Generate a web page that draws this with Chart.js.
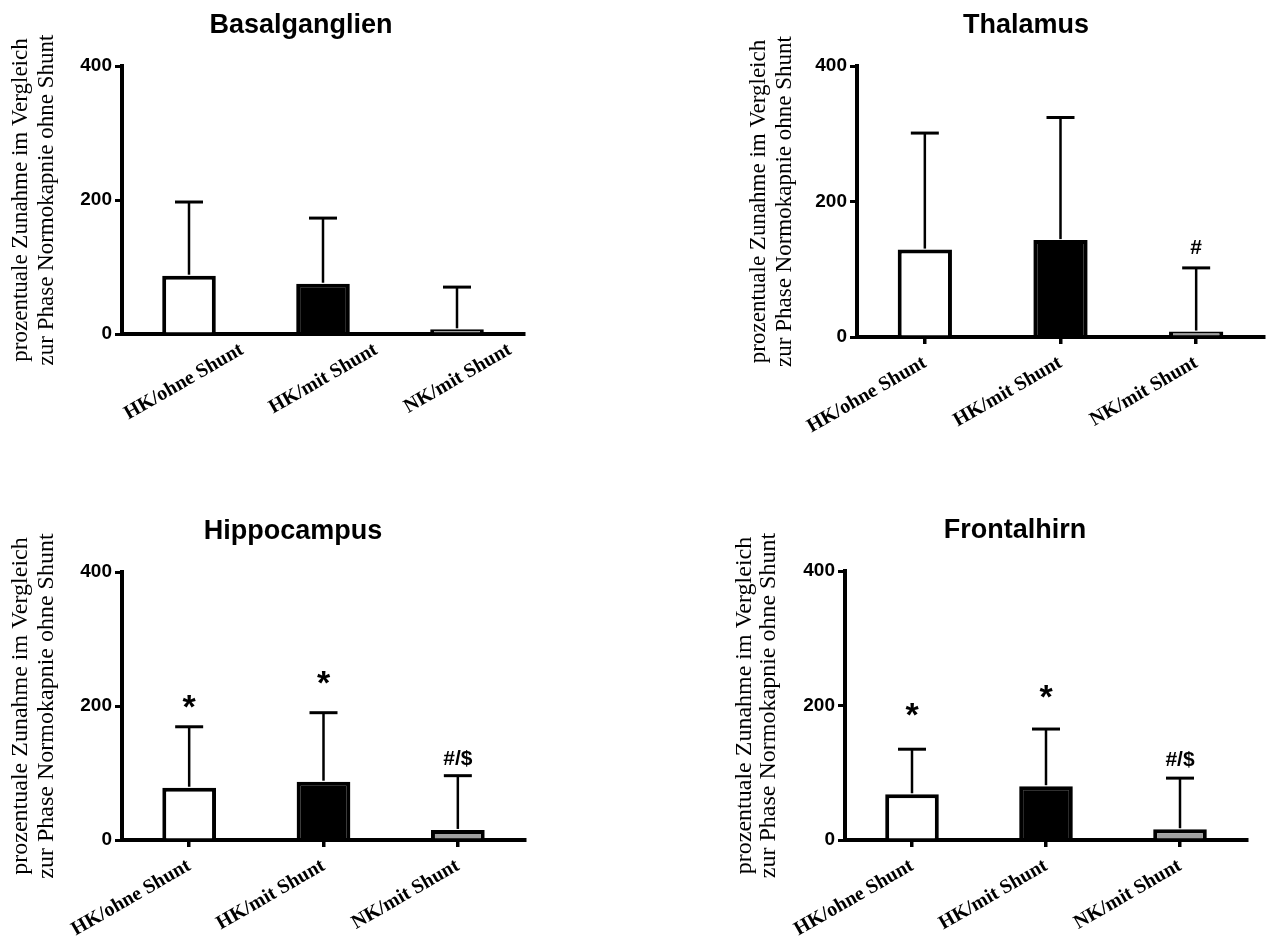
<!DOCTYPE html>
<html>
<head>
<meta charset="utf-8">
<script src="https://cdn.jsdelivr.net/npm/chart.js@4.4.1/dist/chart.umd.min.js"></script>
<style>
    html, body { margin: 0; padding: 0; background: #fff; overflow: hidden; }
    canvas { position: absolute; }
</style>
</head>
<body>
<canvas id="basal" width="545" height="470" style="left:0px;top:0px"></canvas>
<canvas id="thal" width="528" height="470" style="left:740px;top:0px"></canvas>
<canvas id="hippo" width="545" height="471" style="left:0px;top:470px"></canvas>
<canvas id="front" width="538" height="471" style="left:730px;top:470px"></canvas>
<script>
// werte (mittelwert + SD nach oben)
var categories = ['HK/ohne Shunt', 'HK/mit Shunt', 'NK/mit Shunt'];
var yTicks = [0, 200, 400];
var yLabel = ['prozentuale Zunahme im Vergleich', 'zur Phase Normokapnie ohne Shunt'];

var basalMean = [87, 75, 7];
var basalSD = [110, 98, 63];
var basalMarks = ['', '', ''];
var basalMarkAt = [0, 0, 0];

var thalMean = [129, 143, 8];
var thalSD = [172, 181, 94];
var thalMarks = ['', '', '#'];
var thalMarkAt = [0, 0, 133];

var hippoMean = [78, 87, 15];
var hippoSD = [91, 103, 81];
var hippoMarks = ['*', '*', '#/$'];
var hippoMarkAt = [206, 242, 122];

var frontMean = [68, 80, 16];
var frontSD = [67, 85, 76];
var frontMarks = ['*', '*', '#/$'];
var frontMarkAt = [194, 221, 119];

var barFill = ['#ffffff', '#000000', '#a0a0a0'];
var sans = '"Liberation Sans", Arial, sans-serif';
var serif = '"Liberation Serif", "Times New Roman", serif';

// fehlerbalken, nur nach oben
var errorBars = {
    id: 'errorBars',
    afterDatasetsDraw: function (chart, args, opts) {
        var ctx = chart.ctx;
        var xs = chart.scales.x, ys = chart.scales.y;
        var data = chart.data.datasets[0].data;
        ctx.save();
        ctx.strokeStyle = '#000';
        data.forEach(function (v, i) {
            var px = xs.getPixelForValue(i);
            var base = ys.getPixelForValue(v);
            var top = ys.getPixelForValue(v + opts.sd[i]);
            ctx.lineWidth = 2.5;
            ctx.beginPath();
            ctx.moveTo(px, base - 1);
            ctx.lineTo(px, top);
            ctx.stroke();
            ctx.lineWidth = 3;
            ctx.beginPath();
            ctx.moveTo(px - 14, top);
            ctx.lineTo(px + 14, top);
            ctx.stroke();
        });
        ctx.restore();
    }
};

// signifikanz-zeichen ueber den balken
var marks = {
    id: 'marks',
    afterDatasetsDraw: function (chart, args, opts) {
        var ctx = chart.ctx;
        var xs = chart.scales.x, ys = chart.scales.y;
        ctx.save();
        ctx.fillStyle = '#000';
        ctx.textAlign = 'center';
        ctx.textBaseline = 'alphabetic';
        opts.text.forEach(function (t, i) {
            if (!t) return;
            var size = t === '*' ? 34 : 21;
            ctx.font = 'bold ' + size + 'px ' + sans;
            var m = ctx.measureText(t);
            var cy = ys.getPixelForValue(opts.at[i]);
            ctx.fillText(t, xs.getPixelForValue(i), cy + (m.actualBoundingBoxAscent - m.actualBoundingBoxDescent) / 2);
        });
        ctx.restore();
    }
};

// ueberschrift, etwas links von der mitte der achse
var panelTitle = {
    id: 'panelTitle',
    afterDraw: function (chart, args, opts) {
        var ctx = chart.ctx, area = chart.chartArea;
        ctx.save();
        ctx.fillStyle = '#000';
        ctx.font = 'bold 27px ' + sans;
        ctx.textAlign = 'center';
        ctx.textBaseline = 'alphabetic';
        ctx.fillText(opts.text, area.left + opts.dx, area.top - 33);
        ctx.restore();
    }
};

function makeChart(id, p) {
    return new Chart(document.getElementById(id), {
        type: 'bar',
        data: {
            labels: categories,
            datasets: [{
                data: p.mean,
                backgroundColor: barFill,
                borderColor: '#000',
                borderWidth: 4,
                barPercentage: 0.4,
                categoryPercentage: 1
            }]
        },
        options: {
            responsive: false,
            animation: false,
            layout: { padding: { left: 0, top: p.padTop, right: p.padRight, bottom: 0 } },
            plugins: {
                legend: { display: false },
                tooltip: { enabled: false },
                errorBars: { sd: p.sd },
                marks: { text: p.marks, at: p.markAt },
                panelTitle: { text: p.title, dx: p.titleDx }
            },
            scales: {
                x: {
                    offset: true,
                    grid: { offset: false, drawOnChartArea: false, drawTicks: p.xTicks, tickLength: 7, lineWidth: 3.5, color: '#000' },
                    border: { color: '#000', width: 4 },
                    ticks: {
                        color: '#000',
                        font: { family: serif, size: 20, weight: 'bold' },
                        minRotation: 30,
                        maxRotation: 30,
                        padding: p.xPad,
                        labelOffset: p.labelOffset
                    },
                    afterFit: function (s) { s.height = p.xh; }
                },
                y: {
                    min: 0,
                    max: 400,
                    afterBuildTicks: function (s) {
                        s.ticks = yTicks.map(function (v) { return { value: v }; });
                    },
                    grid: { drawOnChartArea: false, tickLength: 7, lineWidth: 3, color: '#000' },
                    border: { color: '#000', width: 4 },
                    ticks: {
                        color: '#000',
                        padding: 3,
                        font: { family: sans, size: 19, weight: 'bold' }
                    },
                    title: {
                        display: true,
                        text: yLabel,
                        color: '#000',
                        font: { family: serif, size: p.labelSize, lineHeight: p.labelLine + 'px' },
                        padding: { top: p.labelPad, bottom: 0 }
                    },
                    afterFit: function (s) { s.width = p.yw; }
                }
            }
        },
        plugins: [errorBars, marks, panelTitle]
    });
}

makeChart('basal', {
    title: 'Basalganglien', titleDx: 179,
    mean: basalMean, sd: basalSD, marks: basalMarks, markAt: basalMarkAt,
    padTop: 66, padRight: 21, yw: 122, xh: 136,
    xTicks: false, xPad: 4, labelOffset: 53,
    labelSize: 23, labelLine: 26, labelPad: 8
});
makeChart('thal', {
    title: 'Thalamus', titleDx: 169,
    mean: thalMean, sd: thalSD, marks: thalMarks, markAt: thalMarkAt,
    padTop: 66, padRight: 4, yw: 117, xh: 133,
    xTicks: true, xPad: 7, labelOffset: 0,
    labelSize: 23, labelLine: 26, labelPad: 6
});
makeChart('hippo', {
    title: 'Hippocampus', titleDx: 171,
    mean: hippoMean, sd: hippoSD, marks: hippoMarks, markAt: hippoMarkAt,
    padTop: 102, padRight: 20, yw: 122, xh: 101,
    xTicks: true, xPad: 7, labelOffset: 0,
    labelSize: 24, labelLine: 26, labelPad: 8
});
makeChart('front', {
    title: 'Frontalhirn', titleDx: 170,
    mean: frontMean, sd: frontSD, marks: frontMarks, markAt: frontMarkAt,
    padTop: 101, padRight: 21, yw: 115, xh: 101,
    xTicks: true, xPad: 7, labelOffset: 0,
    labelSize: 24, labelLine: 24, labelPad: 3
});
</script>
</body>
</html>
